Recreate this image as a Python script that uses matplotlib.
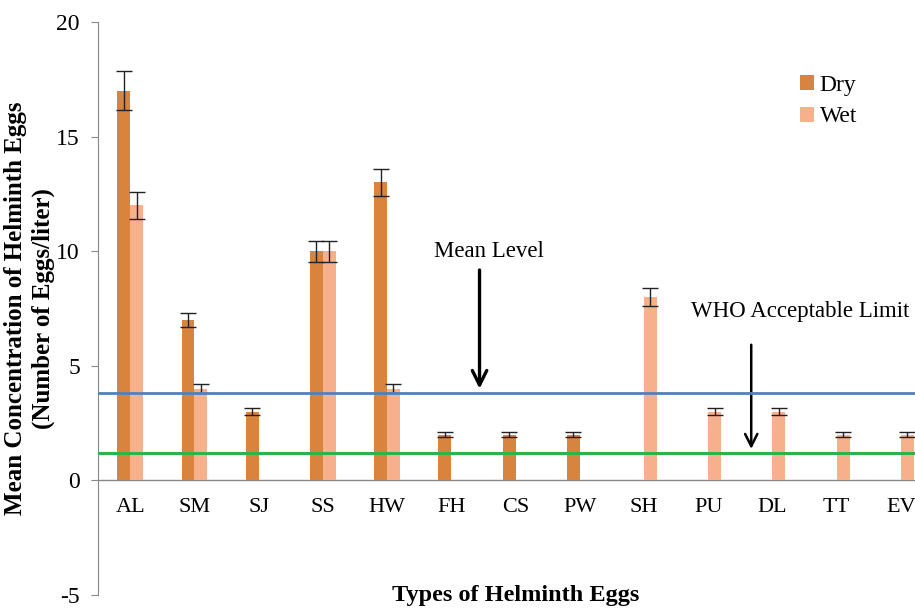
import numpy as np
import matplotlib
matplotlib.use("Agg")
import matplotlib.pyplot as plt

plt.rcParams["font.family"] = ["Liberation Serif", "DejaVu Serif"]
plt.rcParams["axes.unicode_minus"] = False

# data
categories = ["AL", "SM", "SJ", "SS", "HW", "FH", "CS", "PW", "SH", "PU", "DL", "TT", "EV"]
dry = [17, 7, 3, 10, 13, 2, 2, 2, 0, 0, 0, 0, 0]
dry_err = [0.85, 0.3, 0.15, 0.45, 0.6, 0.1, 0.1, 0.1, 0, 0, 0, 0, 0]
wet = [12, 4, 0, 10, 4, 0, 0, 0, 8, 3, 3, 2, 2]
wet_err = [0.6, 0.2, 0, 0.45, 0.2, 0, 0, 0, 0.4, 0.15, 0.15, 0.1, 0.1]
mean_level = 3.83
who_limit = 1.2

DRY_C = "#D8843F"
WET_C = "#F6B08B"

fig = plt.figure(figsize=(9.15, 6.08), dpi=100)
ax = fig.add_axes([98 / 915, 13 / 608, 835 / 915, 573 / 608])

x = np.arange(len(categories))
w = 0.2
dry_mask = np.array(dry) > 0
wet_mask = np.array(wet) > 0
ax.bar(x[dry_mask] - w / 2, np.array(dry)[dry_mask], w, color=DRY_C, label="Dry", zorder=2)
ax.bar(x[wet_mask] + w / 2, np.array(wet)[wet_mask], w, color=WET_C, label="Wet", zorder=2)
ax.errorbar(x[dry_mask] - w / 2, np.array(dry)[dry_mask], yerr=np.array(dry_err)[dry_mask],
            fmt="none", ecolor="#222222", elinewidth=1, capsize=6, capthick=1, zorder=3)
ax.errorbar(x[wet_mask] + w / 2, np.array(wet)[wet_mask], yerr=np.array(wet_err)[wet_mask],
            fmt="none", ecolor="#222222", elinewidth=1, capsize=6, capthick=1, zorder=3)

# reference lines
ax.axhline(mean_level, color="#4F81BD", lw=2, zorder=4)
ax.axhline(who_limit, color="#2DB34A", lw=2.2, zorder=4)
ax.axhline(0, color="#888888", lw=1, zorder=1)

ax.set_xlim(-0.5, 12.5)
ax.set_ylim(-5, 20)
ax.set_yticks([-5, 0, 5, 10, 15, 20])

for s in ["top", "right", "bottom"]:
    ax.spines[s].set_visible(False)
ax.spines["left"].set_color("#888888")
ax.tick_params(axis="y", direction="out", length=5, color="#888888", labelsize=17, pad=8)
ax.tick_params(axis="x", length=0, labelbottom=False)

for xi, lab in zip(x, categories):
    ax.text(xi, -1.2, lab, ha="center", va="center", fontsize=16)

ax.set_ylabel("Mean Concentration of Helminth Eggs\n(Number of Eggs/liter)",
              fontsize=18, fontweight="bold", linespacing=1.3)
ax.yaxis.set_label_coords(-0.051, 0.5)
ax.text(6.0, -5.0, "Types of Helminth Eggs", ha="center", va="center",
        fontsize=17.5, fontweight="bold", clip_on=False)

# annotations
ax.text(5.58, 10.0, "Mean Level", ha="center", va="center", fontsize=16.5)
ax.annotate("", xy=(5.44, mean_level + 0.05), xytext=(5.44, 9.3),
            arrowprops=dict(arrowstyle="->", lw=2.4, color="black", mutation_scale=26))
ax.text(10.44, 7.35, "WHO Acceptable Limit", ha="center", va="center", fontsize=16.5)
ax.annotate("", xy=(9.67, who_limit + 0.05), xytext=(9.67, 6.04),
            arrowprops=dict(arrowstyle="->", lw=1.8, color="black", mutation_scale=22))

leg = ax.legend(loc="upper left", bbox_to_anchor=(0.815, 0.945), frameon=False,
                fontsize=17, handlelength=0.6, handleheight=0.6, handletextpad=0.25,
                labelspacing=0.45)

fig.savefig("out.png", dpi=100)
